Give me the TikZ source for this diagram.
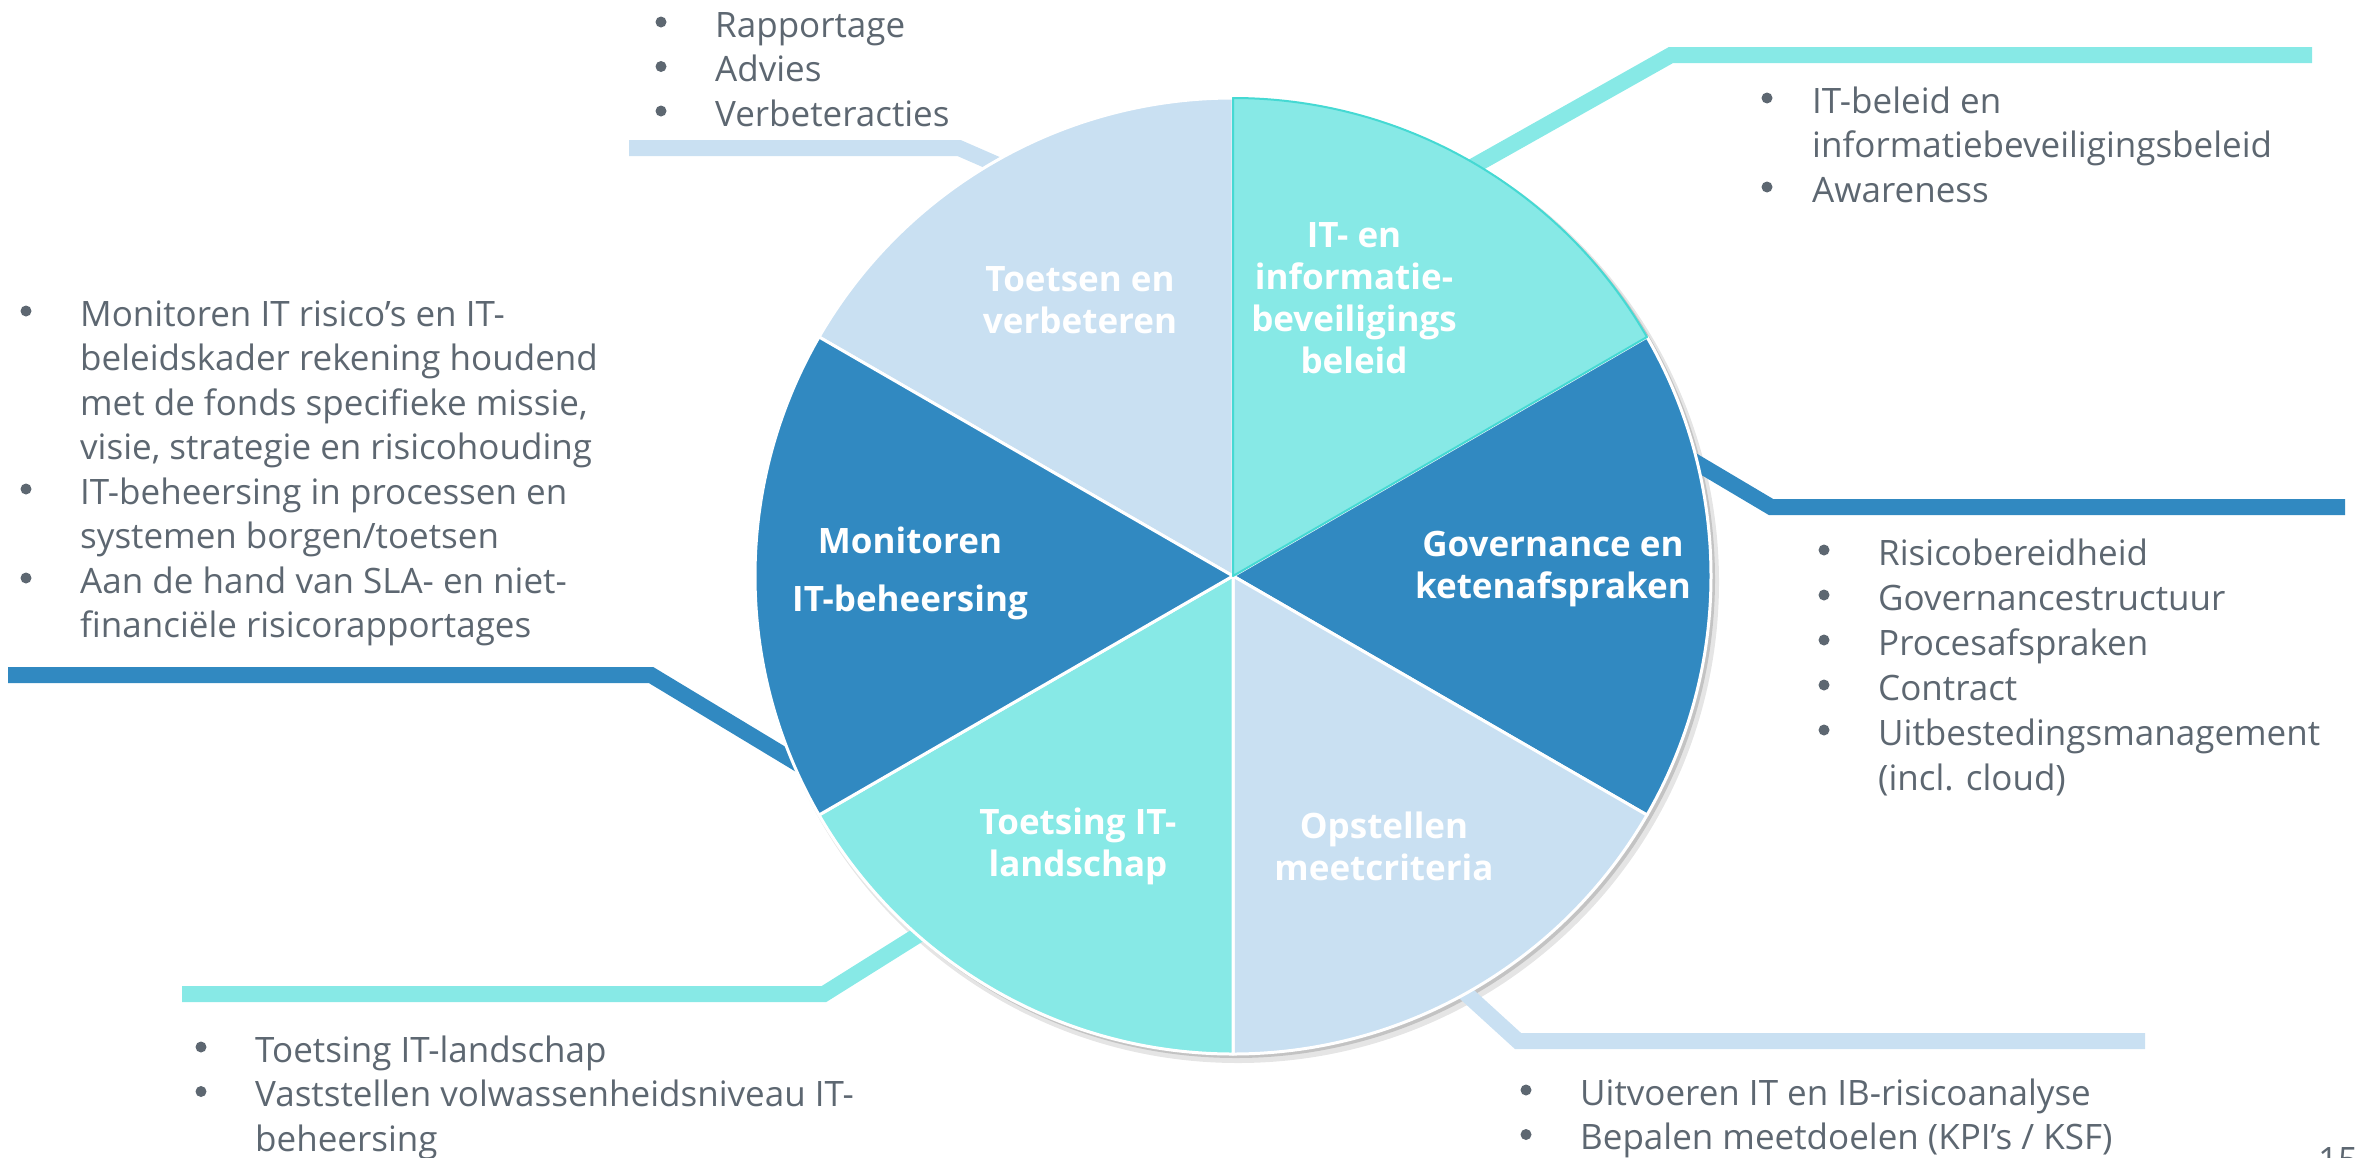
\documentclass[tikz,border=0pt]{standalone}
\usepackage{fontspec}
\setmainfont{Open Sans}
\definecolor{lblue}{HTML}{C9E0F2}
\definecolor{cyanc}{HTML}{87E9E6}
\definecolor{dblue}{HTML}{3189C1}
\definecolor{tgray}{HTML}{5D6771}
\definecolor{cyedge}{HTML}{45D9D3}
\tikzset{
  conn/.style={line width=16pt, line join=miter, line cap=butt},
  seg/.style={draw=white, line width=3pt, line join=round},
  lbl/.style={text=white, font=\fontsize{35}{42}\selectfont\bfseries, align=center, inner sep=0pt},
  blist/.style={text=tgray, inner sep=0pt, anchor=base west, font=\fontsize{35}{44.5}\selectfont},
  bdot/.style={fill=tgray},
}
\newcommand\bul{\hspace*{62pt}}
\newcommand\bulN{\hspace*{53pt}}
\begin{document}
\begin{tikzpicture}[x=1pt,y=-1pt]
\useasboundingbox (0,0) rectangle (2364,1157);
\coordinate (c) at (1233,576);
\def\R{478}
% shadow
\fill[black,opacity=0.10] (1238,582) circle[radius=481];
\fill[black,opacity=0.15] (1236,579) circle[radius=479];
% connectors
\coordinate (tlFree) at (629,148);  \coordinate (tlBend) at (959,148);  \coordinate (tlEnd) at (1030,179);
\coordinate (trFree) at (2312,55);  \coordinate (trBend) at (1671,55);  \coordinate (trEnd) at (1440,185);
\coordinate (rFree) at (2345,507);  \coordinate (rBend) at (1771,507);  \coordinate (rEnd) at (1680,453);
\coordinate (lFree) at (8,675);     \coordinate (lBend) at (651,675);   \coordinate (lEnd) at (820,777);
\coordinate (blFree) at (182,994);  \coordinate (blBend) at (824,994);  \coordinate (blEnd) at (950,915);
\coordinate (brFree) at (2145,1041);\coordinate (brBend) at (1518,1041);\coordinate (brEnd) at (1450,979);
\draw[conn, lblue] (tlFree) -- (tlBend) -- (tlEnd);
\draw[conn, cyanc] (trFree) -- (trBend) -- (trEnd);
\draw[conn, dblue] (rFree) -- (rBend) -- (rEnd);
\draw[conn, dblue] (lFree) -- (lBend) -- (lEnd);
\draw[conn, cyanc] (blFree) -- (blBend) -- (blEnd);
\draw[conn, lblue] (brFree) -- (brBend) -- (brEnd);
% pie segments (y axis points down: angles negated)
\path[seg, fill=lblue] (c) -- ++(-150:\R) arc[start angle=-150, end angle=-90, radius=\R] -- cycle;
\path[seg, fill=dblue] (c) -- ++(-30:\R) arc[start angle=-30, end angle=30, radius=\R] -- cycle;
\path[seg, fill=lblue] (c) -- ++(30:\R) arc[start angle=30, end angle=90, radius=\R] -- cycle;
\path[seg, fill=cyanc] (c) -- ++(90:\R) arc[start angle=90, end angle=150, radius=\R] -- cycle;
\path[seg, fill=dblue] (c) -- ++(150:\R) arc[start angle=150, end angle=210, radius=\R] -- cycle;
\path[seg, fill=cyanc, draw=cyedge, line width=2pt] (c) -- ++(-90:\R) arc[start angle=-90, end angle=-30, radius=\R] -- cycle;
% segment labels
\node[lbl] (sTV) at (1080,300) {Toetsen en\\verbeteren};
\node[lbl] (sIT) at (1354,298) {IT- en\\informatie-\\beveiligings\\beleid};
\node[lbl] (sMO) at (910,573) {Monitoren\\[16pt]IT-beheersing};
\node[lbl] (sGO) at (1553,569) {Governance en\\ketenafspraken};
\node[lbl] (sTI) at (1078,846) {Toetsing IT-\\landschap};
\node[lbl] (sOM) at (1384,846) {Opstellen\\meetcriteria};
% bullet lists
\node[blist] (tTV) at (653,37) {\begin{tabular}[t]{@{}l@{}l@{}}
\bul & Rapportage\\ \bul & Advies\\ \bul & Verbeteracties\end{tabular}};
\node[blist] (tIT) at (1759,113) {\begin{tabular}[t]{@{}l@{}l@{}}
\bulN & IT-beleid en\\ & informatiebeveiligingsbeleid\\ \bulN & Awareness\end{tabular}};
\node[blist] (tMO) at (18,326) {\begin{tabular}[t]{@{}l@{}l@{}}
\bul & Monitoren IT risico’s en IT-\\ & beleidskader rekening houdend\\ & met de fonds specifieke missie,\\ & visie, strategie en risicohouding\\
\bul & IT-beheersing in processen en\\ & systemen borgen/toetsen\\
\bul & Aan de hand van SLA- en niet-\\ & financiële risicorapportages\end{tabular}};
\node[blist, font=\fontsize{35}{45}\selectfont] (tGO) at (1816,565) {\begin{tabular}[t]{@{}l@{}l@{}}
\bul & Risicobereidheid\\ \bul & Governancestructuur\\ \bul & Procesafspraken\\ \bul & Contract\\ \bul & Uitbestedingsmanagement\\ & (incl. cloud)\end{tabular}};
\node[blist] (tTI) at (193,1062) {\begin{tabular}[t]{@{}l@{}l@{}}
\bul & Toetsing IT-landschap\\ \bul & Vaststellen volwassenheidsniveau IT-\\ & beheersing\end{tabular}};
\node[blist] (tOM) at (1518,1105) {\begin{tabular}[t]{@{}l@{}l@{}}
\bul & Uitvoeren IT en IB-risicoanalyse\\ \bul & Bepalen meetdoelen (KPI’s / KSF)\end{tabular}};
\node[blist] (pg) at (2318,1172) {15};
% bullet dots
\foreach \y in {22,66.5,111} \fill[bdot] (661,\y) circle[radius=5.5];
\foreach \y in {98,187} \fill[bdot] (1767,\y) circle[radius=5.5];
\foreach \y in {311,489,578} \fill[bdot] (26,\y) circle[radius=5.5];
\foreach \y in {550,595,640,685,730} \fill[bdot] (1824,\y) circle[radius=5.5];
\foreach \y in {1047,1091.5} \fill[bdot] (201,\y) circle[radius=5.5];
\foreach \y in {1090,1134.5} \fill[bdot] (1526,\y) circle[radius=5.5];
\end{tikzpicture}
\end{document}
